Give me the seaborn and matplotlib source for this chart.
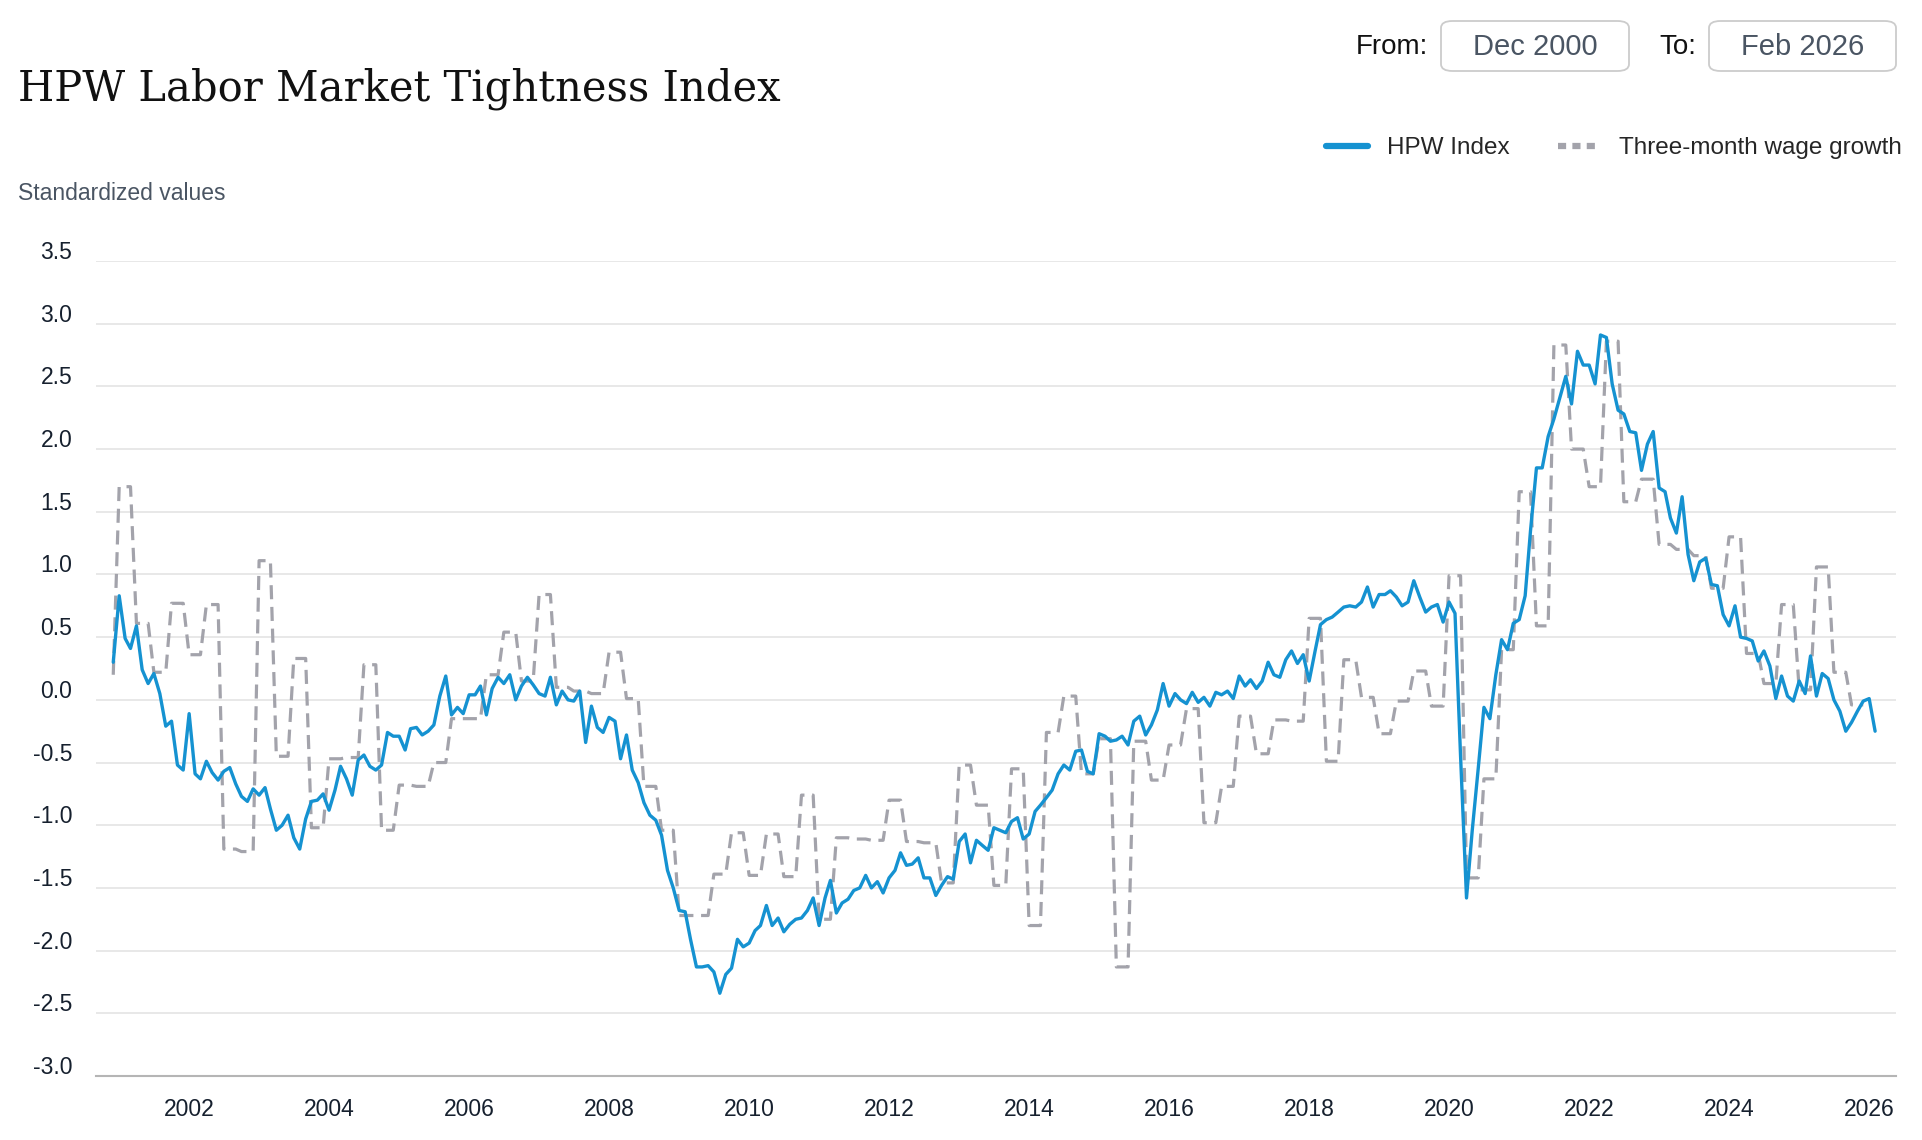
import numpy as np
import pandas as pd
import matplotlib
matplotlib.use("Agg")
import matplotlib.pyplot as plt
import seaborn as sns
from matplotlib.lines import Line2D
from matplotlib.patches import FancyBboxPatch
from matplotlib.transforms import ScaledTranslation

# ---------------- data ----------------
start_month = "2000-12-01"

hpw_index = [
    0.30, 0.83, 0.49, 0.41, 0.59, 0.24, 0.13, 0.21, 0.05, -0.21, -0.17, -0.52,
    -0.56, -0.11, -0.59, -0.63, -0.49, -0.58, -0.64, -0.57, -0.54, -0.67, -0.77, -0.81,
    -0.71, -0.76, -0.70, -0.87, -1.04, -1.00, -0.92, -1.10, -1.19, -0.95, -0.81, -0.80,
    -0.75, -0.88, -0.72, -0.53, -0.63, -0.76, -0.48, -0.44, -0.53, -0.56, -0.52, -0.26,
    -0.29, -0.29, -0.40, -0.23, -0.22, -0.28, -0.25, -0.20, 0.03, 0.19, -0.12, -0.06,
    -0.11, 0.04, 0.04, 0.11, -0.12, 0.09, 0.18, 0.13, 0.20, 0.00, 0.11, 0.18,
    0.12, 0.05, 0.03, 0.18, -0.04, 0.07, 0.00, -0.01, 0.07, -0.34, -0.05, -0.22,
    -0.26, -0.14, -0.17, -0.47, -0.28, -0.56, -0.66, -0.82, -0.92, -0.96, -1.08, -1.36,
    -1.50, -1.68, -1.69, -1.91, -2.13, -2.13, -2.12, -2.17, -2.34, -2.19, -2.14, -1.91,
    -1.97, -1.94, -1.84, -1.80, -1.64, -1.80, -1.74, -1.85, -1.79, -1.75, -1.74, -1.68,
    -1.58, -1.80, -1.58, -1.44, -1.70, -1.62, -1.59, -1.52, -1.50, -1.40, -1.50, -1.45,
    -1.54, -1.42, -1.36, -1.22, -1.32, -1.31, -1.26, -1.42, -1.42, -1.56, -1.48, -1.41,
    -1.43, -1.13, -1.07, -1.30, -1.12, -1.16, -1.20, -1.02, -1.04, -1.06, -0.97, -0.94,
    -1.11, -1.07, -0.89, -0.84, -0.78, -0.72, -0.59, -0.52, -0.56, -0.41, -0.40, -0.57,
    -0.59, -0.27, -0.29, -0.33, -0.32, -0.29, -0.36, -0.17, -0.13, -0.28, -0.20, -0.08,
    0.13, -0.05, 0.05, 0.00, -0.03, 0.06, -0.02, 0.02, -0.05, 0.06, 0.04, 0.07,
    0.01, 0.19, 0.11, 0.16, 0.09, 0.15, 0.30, 0.20, 0.18, 0.32, 0.39, 0.29,
    0.36, 0.15, 0.39, 0.60, 0.64, 0.66, 0.70, 0.74, 0.75, 0.74, 0.78, 0.90,
    0.74, 0.84, 0.84, 0.87, 0.82, 0.75, 0.78, 0.95, 0.82, 0.70, 0.74, 0.76,
    0.62, 0.78, 0.69, -0.45, -1.58, -1.04, -0.55, -0.06, -0.15, 0.20, 0.48, 0.40,
    0.61, 0.64, 0.83, 1.35, 1.85, 1.85, 2.10, 2.24, 2.41, 2.58, 2.36, 2.78,
    2.67, 2.67, 2.52, 2.91, 2.89, 2.52, 2.31, 2.28, 2.14, 2.13, 1.83, 2.04,
    2.14, 1.69, 1.66, 1.45, 1.33, 1.62, 1.16, 0.95, 1.10, 1.13, 0.92, 0.91,
    0.68, 0.59, 0.75, 0.50, 0.49, 0.47, 0.31, 0.39, 0.27, 0.01, 0.19, 0.03,
    -0.01, 0.15, 0.05, 0.35, 0.03, 0.21, 0.17, 0.00, -0.09, -0.25, -0.18, -0.09,
    -0.01, 0.01, -0.25,
]

# three-month wage growth: value for Q4 2000 (only Dec 2000 shown), then Q1 2001 .. Q4 2025
wage_q4_2000 = 0.20
wage_growth_quarterly = [
    1.70, 0.61, 0.22, 0.77,
    0.36, 0.76, -1.19, -1.21,
    1.11, -0.45, 0.33, -1.02,
    -0.47, -0.46, 0.28, -1.04,
    -0.68, -0.69, -0.50, -0.15,
    -0.15, 0.20, 0.54, 0.15,
    0.84, 0.10, 0.07, 0.05,
    0.38, 0.01, -0.69, -1.04,
    -1.72, -1.72, -1.39, -1.06,
    -1.40, -1.07, -1.41, -0.76,
    -1.75, -1.10, -1.11, -1.12,
    -0.80, -1.13, -1.14, -1.46,
    -0.52, -0.84, -1.48, -0.55,
    -1.80, -0.26, 0.03, -0.59,
    -0.31, -2.13, -0.33, -0.64,
    -0.36, -0.07, -0.98, -0.69,
    -0.13, -0.43, -0.16, -0.17,
    0.65, -0.49, 0.32, 0.02,
    -0.27, -0.01, 0.23, -0.05,
    0.99, -1.42, -0.63, 0.40,
    1.66, 0.59, 2.83, 2.00,
    1.70, 2.86, 1.58, 1.76,
    1.24, 1.20, 1.15, 0.89,
    1.30, 0.37, 0.13, 0.76,
    0.08, 1.06, 0.22, -0.04,
]

y_ticks = [-3.0, -2.5, -2.0, -1.5, -1.0, -0.5, 0.0, 0.5, 1.0, 1.5, 2.0, 2.5, 3.0, 3.5]
x_tick_years = list(range(2002, 2027, 2))
series_names = ["HPW Index", "Three-month wage growth"]
title = "HPW Labor Market Tightness Index"
y_title = "Standardized values"
range_from, range_to = "Dec 2000", "Feb 2026"

# ---------------- build frame ----------------
dates = pd.date_range(start_month, periods=len(hpw_index), freq="MS")
wage_monthly = [wage_q4_2000] + list(np.repeat(wage_growth_quarterly, 3))
wage_monthly += [np.nan] * (len(hpw_index) - len(wage_monthly))
df = pd.DataFrame({"date": dates, "hpw": hpw_index, "wage": wage_monthly})

# ---------------- style ----------------
sns.set_style("white")
plt.rcParams["font.family"] = ["Liberation Sans", "DejaVu Sans"]
plt.rcParams["axes.unicode_minus"] = False

BLUE = "#1592d1"
GREY = "#a3a3ab"
TXT = "#16202e"

W, H = 1922, 1140
fig = plt.figure(figsize=(W / 100, H / 100), dpi=100)
ax = fig.add_axes([96 / W, 1 - 1076 / H, (1896 - 96) / W, (1076 - 261) / H])

sns.lineplot(data=df, x="date", y="wage", ax=ax, color=GREY, linewidth=2.3,
             linestyle=(0, (4.4, 2.4)), zorder=2)
sns.lineplot(data=df, x="date", y="hpw", ax=ax, color=BLUE, linewidth=2.4, zorder=3)

ax.set_ylim(-3.0, 3.5)
ax.set_xlim(pd.Timestamp("2000-09-02"), pd.Timestamp("2026-05-21"))
ax.set_yticks(y_ticks)
ax.set_yticklabels([f"{v:.1f}" for v in y_ticks])
ax.set_xticks([pd.Timestamp(f"{y}-01-01") for y in x_tick_years])
ax.set_xticklabels([str(y) for y in x_tick_years])
ax.set_xlabel("")
ax.set_ylabel("")

ax.grid(axis="y", color="#e4e4e4", linewidth=1.2)
ax.grid(axis="x", visible=False)
for s in ["top", "right", "left"]:
    ax.spines[s].set_visible(False)
ax.spines["bottom"].set_color("#b5b5b5")
ax.spines["bottom"].set_linewidth(1.5)

ax.tick_params(axis="y", length=0, pad=17, labelsize=16.5, labelcolor=TXT)
ax.tick_params(axis="x", length=12.5, width=1.2, color="#ccd6eb", pad=3,
               labelsize=16.5, labelcolor=TXT)
for lab in ax.get_yticklabels():
    lab.set_transform(lab.get_transform() + ScaledTranslation(0, 11 / 100, fig.dpi_scale_trans))

# legend
handles = [
    Line2D([0], [0], color=BLUE, linewidth=4.5),
    Line2D([0], [0], color=GREY, linewidth=4.5, linestyle=(0, (1.3, 1.0))),
]
fig.legend(handles, series_names, loc="center right", bbox_to_anchor=(1902 / W, 1 - 148 / H),
           ncol=2, frameon=False, fontsize=17.5, handlelength=1.7, handletextpad=0.8,
           columnspacing=2.0, borderaxespad=0, borderpad=0)

# title and axis title
fig.text(18 / W, 1 - 100 / H, title, fontsize=30, family=["DejaVu Serif"], color="#111111",
         va="baseline", ha="left")
fig.text(18 / W, 1 - 193 / H, y_title, fontsize=16.5, color="#4a5563", va="center", ha="left")

# range selector boxes
fig.text(1356 / W, 1 - 47 / H, "From:", fontsize=20, color="#111111", va="center", ha="left")
fig.text(1659 / W, 1 - 47 / H, "To:", fontsize=20, color="#111111", va="center", ha="left")
for (x0, x1, label) in [(1441, 1629, range_from), (1709, 1896, range_to)]:
    box = FancyBboxPatch((x0 / W, 1 - 71 / H), (x1 - x0) / W, 50 / H,
                         boxstyle="round,pad=0,rounding_size=0.006",
                         transform=fig.transFigure, facecolor="white",
                         edgecolor="#cccccc", linewidth=1.3)
    fig.patches.append(box)
    fig.text((x0 + x1) / 2 / W, 1 - 47 / H, label, fontsize=21, color="#4a5563",
             va="center", ha="center")

fig.savefig("out.png", dpi=100)
